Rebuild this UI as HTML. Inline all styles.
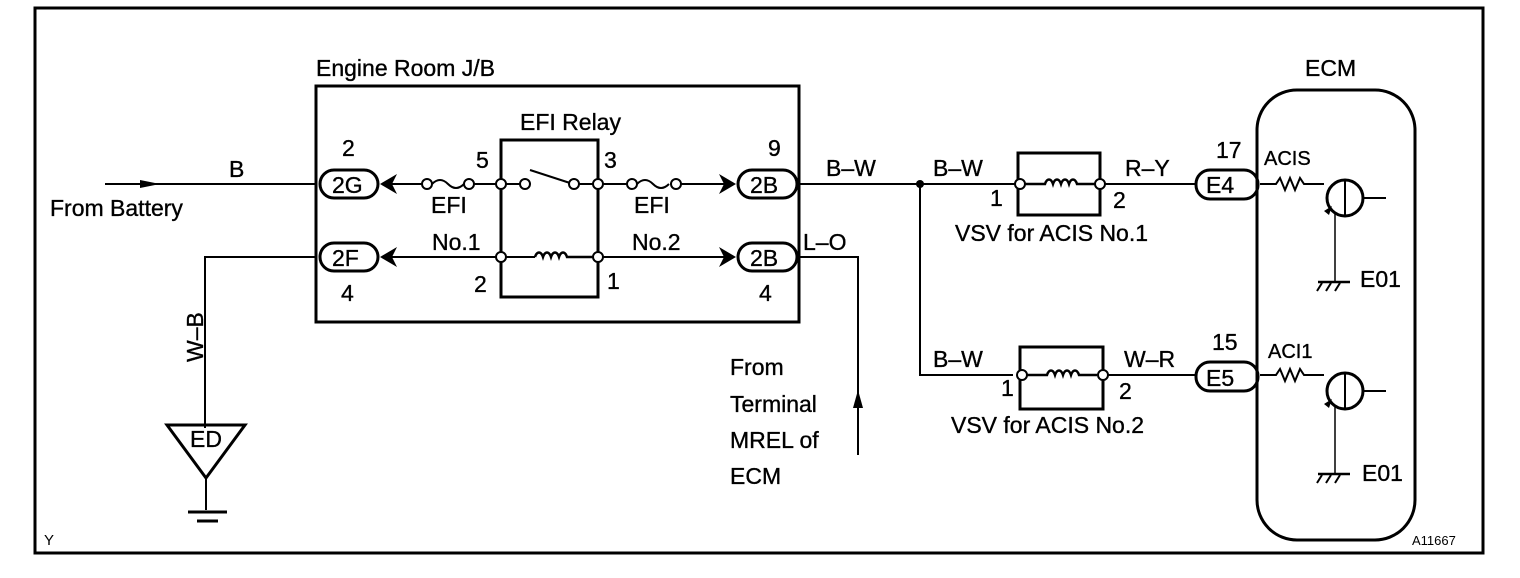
<!DOCTYPE html>
<html><head><meta charset="utf-8"><style>
html,body{margin:0;padding:0;background:#fff;}
svg{display:block;}
text{font-family:"Liberation Sans",Arial,sans-serif;font-size:23px;fill:#000;stroke:#000;stroke-width:0.35px;}
</style></head><body>
<svg width="1520" height="578" viewBox="0 0 1520 578" xmlns="http://www.w3.org/2000/svg">
<g fill="none" stroke="#000">
<rect x="35" y="8" width="1448" height="545" stroke-width="3"/>
<rect x="316" y="86" width="483" height="236" stroke-width="3"/>
<rect x="501" y="140" width="97" height="157" stroke-width="3"/>
<line x1="105" y1="184" x2="316" y2="184" stroke-width="2"/>
<line x1="385" y1="184" x2="422" y2="184" stroke-width="2"/>
<path d="M432 184 Q440 176 448 184 Q456 192 464 184" stroke-width="2"/>
<line x1="474" y1="184" x2="520" y2="184" stroke-width="2"/>
<line x1="530" y1="170" x2="570" y2="183" stroke-width="2"/>
<line x1="579" y1="184" x2="627" y2="184" stroke-width="2"/>
<path d="M637 184 Q645 176 653 184 Q661 192 669 184" stroke-width="2"/>
<line x1="681" y1="184" x2="725" y2="184" stroke-width="2"/>
<line x1="385" y1="257" x2="535" y2="257" stroke-width="2"/>
<path d="M535 257 c2 -6 6 -6 8 0 c2 -6 6 -6 8 0 c2 -6 6 -6 8 0 c2 -6 6 -6 8 0 h31" stroke-width="2.5"/>
<line x1="598" y1="257" x2="725" y2="257" stroke-width="2"/>
<rect x="320" y="170" width="58" height="28" rx="14" stroke-width="3"/>
<rect x="320" y="243" width="58" height="28" rx="14" stroke-width="3"/>
<rect x="738" y="170" width="59" height="28" rx="14" stroke-width="3"/>
<rect x="738" y="243" width="59" height="28" rx="14" stroke-width="3"/>
<polyline points="316,257 205,257 205,428" stroke-width="2"/>
<polygon points="167,425 245,425 206,478" stroke-width="3"/>
<line x1="206" y1="478" x2="206" y2="510" stroke-width="2"/>
<line x1="188" y1="512" x2="227" y2="512" stroke-width="3"/>
<line x1="197" y1="521" x2="218" y2="521" stroke-width="3"/>
<line x1="799" y1="184" x2="1015" y2="184" stroke-width="2"/>
<polyline points="920,184 920,375 1013,375" stroke-width="2"/>
<polyline points="799,257 858,257 858,455" stroke-width="2"/>
<rect x="1018" y="153" width="82" height="62" stroke-width="3"/>
<path d="M1025 184 h20 c2 -6 6 -6 8 0 c2 -6 6 -6 8 0 c2 -6 6 -6 8 0 c2 -6 6 -6 8 0 h18" stroke-width="2.5"/>
<line x1="1105" y1="184" x2="1195" y2="184" stroke-width="2"/>
<rect x="1020" y="347" width="83" height="62" stroke-width="3"/>
<path d="M1027 375 h20 c2 -6 6 -6 8 0 c2 -6 6 -6 8 0 c2 -6 6 -6 8 0 c2 -6 6 -6 8 0 h18" stroke-width="2.5"/>
<line x1="1108" y1="375" x2="1195" y2="375" stroke-width="2"/>
<rect x="1196" y="170" width="62" height="29" rx="14" stroke-width="3"/>
<rect x="1196" y="362" width="62" height="29" rx="14" stroke-width="3"/>
<rect x="1257" y="90" width="158" height="450" rx="40" stroke-width="3"/>
<path d="M1260 184 h16 l4 -6 l5 12 l5 -12 l5 12 l5 -12 l4 6 h20" stroke-width="2"/>
<circle cx="1345" cy="198" r="18" stroke-width="3"/>
<line x1="1345" y1="180" x2="1345" y2="216" stroke-width="2"/>
<line x1="1363" y1="198" x2="1386" y2="198" stroke-width="2"/>
<line x1="1335" y1="214" x2="1335" y2="282" stroke-width="1.5"/>
<line x1="1318" y1="282" x2="1350" y2="282" stroke-width="2.5"/>
<path d="M1322 283 l-5 8 M1331 283 l-5 8 M1340 283 l-5 8" stroke-width="2"/>
<path d="M1260 375 h16 l4 -6 l5 12 l5 -12 l5 12 l5 -12 l4 6 h20" stroke-width="2"/>
<circle cx="1345" cy="391" r="18" stroke-width="3"/>
<line x1="1345" y1="373" x2="1345" y2="409" stroke-width="2"/>
<line x1="1363" y1="391" x2="1386" y2="391" stroke-width="2"/>
<line x1="1335" y1="407" x2="1335" y2="474" stroke-width="1.5"/>
<line x1="1318" y1="474" x2="1350" y2="474" stroke-width="2.5"/>
<path d="M1322 475 l-5 8 M1331 475 l-5 8 M1340 475 l-5 8" stroke-width="2"/>
</g>
<g fill="#000" stroke="none">
<polygon points="140,180 160,184 140,188"/>
<polygon points="858,390 853,408 863,408"/>
<circle cx="920" cy="184" r="4"/>
<polygon points="380,184 397,174 392,184 397,194"/>
<polygon points="380,257 397,247 392,257 397,267"/>
<polygon points="736,184 719,174 724,184 719,194"/>
<polygon points="736,257 719,247 724,257 719,267"/>
<path d="M1332 206 l-8 5 l5 4z"/>
<path d="M1332 399 l-8 5 l5 4z"/>
</g>
<g fill="#fff" stroke="#000" stroke-width="2">
<circle cx="427" cy="184" r="5"/><circle cx="469" cy="184" r="5"/>
<circle cx="501" cy="184" r="5"/><circle cx="525" cy="184" r="5"/>
<circle cx="574" cy="184" r="5"/><circle cx="598" cy="184" r="5"/>
<circle cx="632" cy="184" r="5"/><circle cx="676" cy="184" r="5"/>
<circle cx="501" cy="257" r="5"/><circle cx="598" cy="257" r="5"/>
<circle cx="1020" cy="184" r="5"/><circle cx="1100" cy="184" r="5"/>
<circle cx="1022" cy="375" r="5"/><circle cx="1103" cy="375" r="5"/>
</g>
<text x="316" y="76">Engine Room J/B</text>
<text x="520" y="130">EFI Relay</text>
<text x="342" y="156">2</text>
<text x="768" y="156">9</text>
<text x="476" y="168">5</text>
<text x="604" y="168">3</text>
<text x="332" y="193">2G</text>
<text x="332" y="266">2F</text>
<text x="750" y="193">2B</text>
<text x="750" y="266">2B</text>
<text x="431" y="213">EFI</text>
<text x="634" y="213">EFI</text>
<text x="432" y="250">No.1</text>
<text x="632" y="250">No.2</text>
<text x="474" y="292">2</text>
<text x="607" y="289">1</text>
<text x="341" y="301">4</text>
<text x="759" y="301">4</text>
<text x="229" y="177">B</text>
<text x="50" y="216">From Battery</text>
<text x="203" y="362" transform="rotate(-90 203 362)">W–B</text>
<text x="190" y="447">ED</text>
<text x="826" y="176">B–W</text>
<text x="803" y="250">L–O</text>
<text x="730" y="375">From</text>
<text x="730" y="412">Terminal</text>
<text x="730" y="448">MREL of</text>
<text x="730" y="484">ECM</text>
<text x="933" y="176">B–W</text>
<text x="990" y="206">1</text>
<text x="1113" y="208">2</text>
<text x="955" y="241">VSV for ACIS No.1</text>
<text x="1125" y="176">R–Y</text>
<text x="1216" y="158">17</text>
<text x="1206" y="193">E4</text>
<text x="933" y="367">B–W</text>
<text x="1001" y="396">1</text>
<text x="1119" y="399">2</text>
<text x="951" y="433">VSV for ACIS No.2</text>
<text x="1124" y="367">W–R</text>
<text x="1212" y="350">15</text>
<text x="1206" y="386">E5</text>
<text x="1305" y="76">ECM</text>
<text x="1264" y="165" style="font-size:20px">ACIS</text>
<text x="1268" y="358" style="font-size:20px">ACI1</text>
<text x="1360" y="287">E01</text>
<text x="1362" y="481">E01</text>
<text x="44" y="545" style="font-size:15px;stroke-width:0">Y</text>
<text x="1412" y="545" style="font-size:13px;stroke-width:0">A11667</text>
</svg>
</body></html>
